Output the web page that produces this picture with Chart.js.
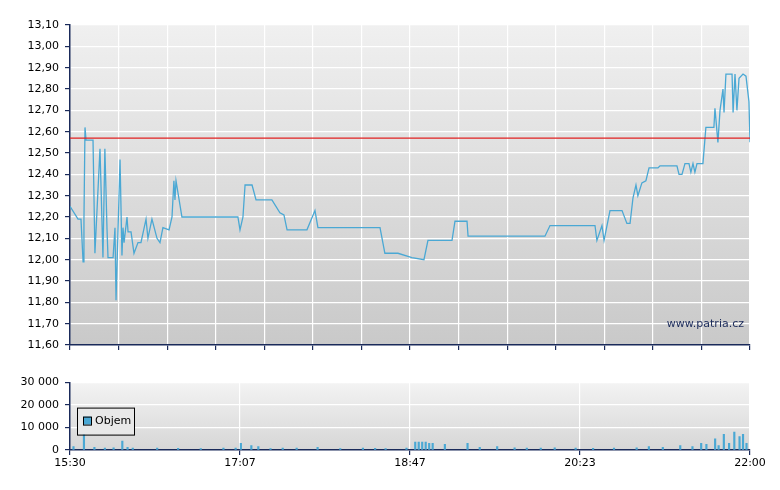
<!DOCTYPE html>
<html><head><meta charset="utf-8">
<script src="https://cdn.jsdelivr.net/npm/chart.js@4"></script>
<style>
body{margin:0;background:#fff;width:780px;height:490px;position:relative;overflow:hidden}
#top{position:absolute;left:0;top:0}
#bot{position:absolute;left:0;top:370px}
</style></head><body>
<canvas id="top" width="780" height="360"></canvas>
<canvas id="bot" width="780" height="120"></canvas>
<script>
// minutes after 15:30
const priceMin = [0,4.6,6.3,7.5,8,8.6,9.2,13.2,14.3,17.2,18.9,20,21.2,21.8,24.7,25.8,26.4,28.7,29.8,30.4,31,32.7,33.3,35,36.7,39,40.7,43.6,44.7,47,49.9,51.6,53.3,56.8,58.5,59.6,60.2,60.8,64.2,96.3,97.5,99.2,100.4,104.4,106.7,115.8,120.4,122.7,124.5,135.9,140.5,142.2,177.8,180.6,188.1,196.1,203,205.3,219.1,220.8,227.7,228.3,272.4,275.3,301.1,302.2,305.1,306.3,309.7,316.6,319.4,321.2,322.9,324.6,325.7,328,330.3,332.1,337.2,338.4,348.1,349.3,351,352.7,355,356.1,357.3,358.4,359.6,363,364.7,369.3,369.9,371.6,372.8,374.5,375.1,376.2,379.7,380.3,381.4,382.5,383.7,386,387.7,389.4,390];
const priceVal = [12.25,12.19,12.19,11.99,12.19,12.62,12.56,12.56,12.03,12.52,12.01,12.52,12.15,12.01,12.01,12.15,11.81,12.47,12.02,12.15,12.08,12.20,12.13,12.13,12.03,12.08,12.08,12.19,12.10,12.19,12.10,12.08,12.15,12.14,12.20,12.37,12.28,12.37,12.20,12.20,12.14,12.20,12.35,12.35,12.28,12.28,12.22,12.21,12.14,12.14,12.23,12.15,12.15,12.03,12.03,12.01,12.00,12.09,12.09,12.18,12.18,12.11,12.11,12.16,12.16,12.09,12.16,12.09,12.23,12.23,12.17,12.17,12.29,12.35,12.30,12.36,12.37,12.43,12.43,12.44,12.44,12.40,12.40,12.45,12.45,12.41,12.45,12.41,12.45,12.45,12.62,12.62,12.71,12.55,12.70,12.80,12.69,12.87,12.87,12.69,12.87,12.70,12.85,12.87,12.86,12.74,12.55];
const refPrice = 12.57;
const volMin = [2,8,14,20,25,30,33,36,50,62,75,88,95,98,104,108,115,122,130,142,155,168,175,181,193,198,200,202,204,206,208,215,228,235,245,255,262,270,278,290,300,312,325,332,340,350,357,362,365,370,372,375,378,381,384,386,388];
const volVal = [1500,7000,1200,900,1000,4000,1200,800,900,700,600,900,800,3000,2000,1500,600,800,900,1200,600,900,700,600,800,3500,3500,3500,3500,3000,3000,2500,3000,1200,1500,1000,900,800,1000,800,700,900,1000,1500,1200,2000,1500,3000,2500,5000,2000,7000,3000,8000,6000,7000,3000];
const xLabels = ['15:30','17:07','18:47','20:23','22:00'];

const fmt = (v, d) => v.toFixed(d).replace('.', ',');
const bg = (c1, c2) => ({
  id: 'bg',
  beforeDraw(ch) {
    const a = ch.chartArea, ctx = ch.ctx;
    const g = ctx.createLinearGradient(0, a.top, 0, a.bottom);
    g.addColorStop(0, c1); g.addColorStop(1, c2);
    ctx.save(); ctx.fillStyle = g;
    ctx.fillRect(a.left, a.top, a.right - a.left, a.bottom - a.top);
    ctx.restore();
  }
});
const axisCol = '#1a2a5a';
const font = { family: 'DejaVu Sans', size: 11 };

new Chart(document.getElementById('top'), {
  type: 'line',
  data: { datasets: [{ data: priceMin.map((m, i) => ({ x: m, y: priceVal[i] })), borderColor: '#4aa8d4', borderWidth: 1.3, pointRadius: 0, tension: 0 }] },
  options: {
    responsive: false, animation: false,
    layout: { padding: { top: 25, right: 30, left: 0, bottom: 0 } },
    plugins: { legend: { display: false }, tooltip: { enabled: false } },
    scales: {
      x: { type: 'linear', min: 0, max: 390, afterBuildTicks: s => { s.ticks = []; for (let i = 0; i <= 14; i++) s.ticks.push({ value: 390 * i / 14 }); },
        afterFit: s => { s.height = 15; },
        ticks: { display: false }, grid: { color: '#fff', lineWidth: 1.2, tickColor: axisCol, tickLength: 5 },
        border: { color: axisCol, width: 1.5 } },
      y: { min: 11.6, max: 13.1, afterBuildTicks: s => { s.ticks = []; for (let i = 0; i <= 15; i++) s.ticks.push({ value: 11.6 + i * 0.1 }); },
        afterFit: s => { s.width = 70; },
        ticks: { color: '#000', font, padding: 6, callback: v => fmt(v, 2) },
        grid: { color: '#fff', lineWidth: 1.2, tickColor: axisCol, tickLength: 5 },
        border: { color: axisCol, width: 1.5 } }
    }
  },
  plugins: [bg('#f0f0f0', '#c9c9c9'), {
    id: 'extra',
    afterDatasetsDraw(ch) {
      const ctx = ch.ctx, a = ch.chartArea, y = ch.scales.y.getPixelForValue(refPrice);
      ctx.save();
      ctx.strokeStyle = '#e02020'; ctx.lineWidth = 1.2;
      ctx.beginPath(); ctx.moveTo(a.left, y); ctx.lineTo(a.right, y); ctx.stroke();
      ctx.fillStyle = '#1a2a5a'; ctx.font = '11px DejaVu Sans'; ctx.textAlign = 'right';
      ctx.fillText('www.patria.cz', a.right - 6, a.bottom - 18);
      ctx.restore();
    }
  }]
});

new Chart(document.getElementById('bot'), {
  type: 'bar',
  data: { datasets: [{ data: volMin.map((m, i) => ({ x: m, y: volVal[i] })), backgroundColor: '#4aa8d4', barThickness: 1.5 }] },
  options: {
    responsive: false, animation: false,
    layout: { padding: { top: 10, right: 30, left: 0, bottom: 0 } },
    plugins: { legend: { display: false }, tooltip: { enabled: false } },
    scales: {
      x: { type: 'linear', min: 0, max: 390, offset: false,
        afterBuildTicks: s => { s.ticks = xLabels.map((l, i) => ({ value: 97.5 * i })); },
        afterFit: s => { s.height = 40; },
        ticks: { color: '#000', font, padding: 2, maxRotation: 0, callback: (v, i) => xLabels[i] },
        grid: { offset: false, color: '#fff', lineWidth: 1.2, tickColor: axisCol, tickLength: 5 },
        border: { color: axisCol, width: 1.5 } },
      y: { min: 0, max: 30000, afterBuildTicks: s => { s.ticks = [0, 10000, 20000, 30000].map(v => ({ value: v })); },
        afterFit: s => { s.width = 70; },
        ticks: { color: '#000', font, padding: 6, callback: v => v === 0 ? '0' : String(v).replace(/(\d)(?=(\d{3})+$)/g, '$1 ') },
        grid: { color: '#fff', lineWidth: 1.2, tickColor: axisCol, tickLength: 5 },
        border: { color: axisCol, width: 1.5 } }
    }
  },
  plugins: [bg('#f3f3f3', '#d6d6d6'), {
    id: 'legendBox',
    afterDraw(ch) {
      const ctx = ch.ctx, a = ch.chartArea;
      const x = a.left + 7, y = a.top + 25;
      ctx.save();
      ctx.fillStyle = '#e8e8e8'; ctx.fillRect(x, y, 57, 27);
      ctx.strokeStyle = '#000'; ctx.lineWidth = 1; ctx.strokeRect(x + 0.5, y + 0.5, 57, 27);
      ctx.fillStyle = '#4aa8d4'; ctx.fillRect(x + 6, y + 9, 8, 8);
      ctx.strokeRect(x + 6.5, y + 9.5, 8, 8);
      ctx.fillStyle = '#000'; ctx.font = '11px DejaVu Sans'; ctx.textBaseline = 'middle';
      ctx.fillText('Objem', x + 18, y + 14);
      ctx.restore();
    }
  }]
});
</script></body></html>
